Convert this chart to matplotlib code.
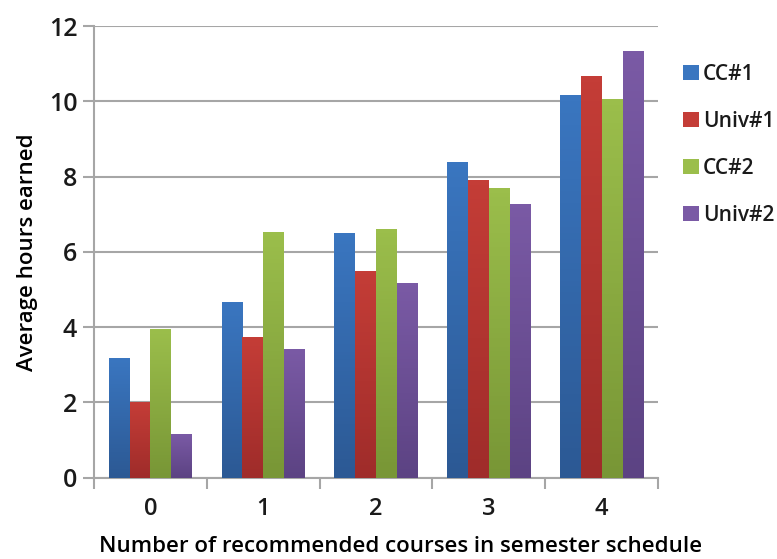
import numpy as np
import matplotlib.pyplot as plt
from matplotlib.colors import LinearSegmentedColormap
from matplotlib.patches import Patch

plt.rcParams["font.family"] = ["Open Sans", "DejaVu Sans"]
plt.rcParams["text.color"] = "#1A1A1A"

categories = ["0", "1", "2", "3", "4"]
series = ["CC#1", "Univ#1", "CC#2", "Univ#2"]
cc1 = [3.17, 4.67, 6.49, 8.39, 10.17]
univ1 = [2.0, 3.74, 5.48, 7.91, 10.66]
cc2 = [3.94, 6.53, 6.61, 7.70, 10.05]
univ2 = [1.15, 3.42, 5.17, 7.26, 11.34]

# (top, bottom) shades for the vertical gradient on each bar
shades = [("#3A76C0", "#2C5994"),
          ("#C43D37", "#9F2C2A"),
          ("#9BBE4B", "#789636"),
          ("#7A5AA5", "#5C4383")]

fig = plt.figure(figsize=(7.77, 5.59), dpi=100)
ax = fig.add_axes([0.121, 0.1454, 0.726, 0.808])

x = np.arange(len(categories))
width = 0.185
values = [cc1, univ1, cc2, univ2]
grad = np.linspace(0, 1, 64).reshape(-1, 1)

for i, (vals, (top, bottom)) in enumerate(zip(values, shades)):
    cmap = LinearSegmentedColormap.from_list(series[i], [top, bottom])
    xs = x + (i - 1.5) * width
    bars = ax.bar(xs, vals, width, color=bottom, zorder=2, linewidth=0)
    for b in bars:
        img = ax.imshow(grad, cmap=cmap, aspect="auto", zorder=3,
                        extent=[b.get_x(), b.get_x() + b.get_width(), 0, b.get_height()])
        img.set_clip_path(b)

ax.set_xlim(-0.5, len(categories) - 0.5)
ax.set_ylim(0, 12)
ax.set_yticks(range(0, 13, 2))
ax.set_xticks(x)
ax.set_xticklabels(categories)
ax.set_xticks(np.arange(-0.5, len(categories)), minor=True)

ax.yaxis.grid(True, color="#A6A6A6", linewidth=1.5, zorder=1)
ax.set_axisbelow(True)

for side in ["top", "right"]:
    ax.spines[side].set_visible(False)
for side in ["left", "bottom"]:
    ax.spines[side].set_color("#A6A6A6")
    ax.spines[side].set_linewidth(1.5)

ax.tick_params(axis="y", length=8, width=1.5, color="#A6A6A6", labelsize=18,
               labelcolor="#1A1A1A", pad=4)
ax.tick_params(axis="x", which="major", length=0, labelsize=17,
               labelcolor="#1A1A1A", pad=14)
ax.tick_params(axis="x", which="minor", length=8, width=1.5, color="#A6A6A6")
for lbl in ax.get_xticklabels() + ax.get_yticklabels():
    lbl.set_fontweight("semibold")

ax.set_ylabel("Average hours earned", fontsize=16, fontweight="semibold", labelpad=8)
ax.set_xlabel("Number of recommended courses in semester schedule", fontsize=16,
              fontweight="semibold")
ax.xaxis.set_label_coords(0.543, -0.13)

handles = [Patch(facecolor=top, edgecolor="none") for top, bottom in shades]
fig.legend(handles, series, loc="upper left", bbox_to_anchor=(0.866, 0.905),
           frameon=False, handlelength=0.75, handleheight=0.75,
           handletextpad=0.2, labelspacing=1.25, borderpad=0,
           prop={"size": 15, "weight": "semibold"})

fig.savefig("out.png", dpi=100)
